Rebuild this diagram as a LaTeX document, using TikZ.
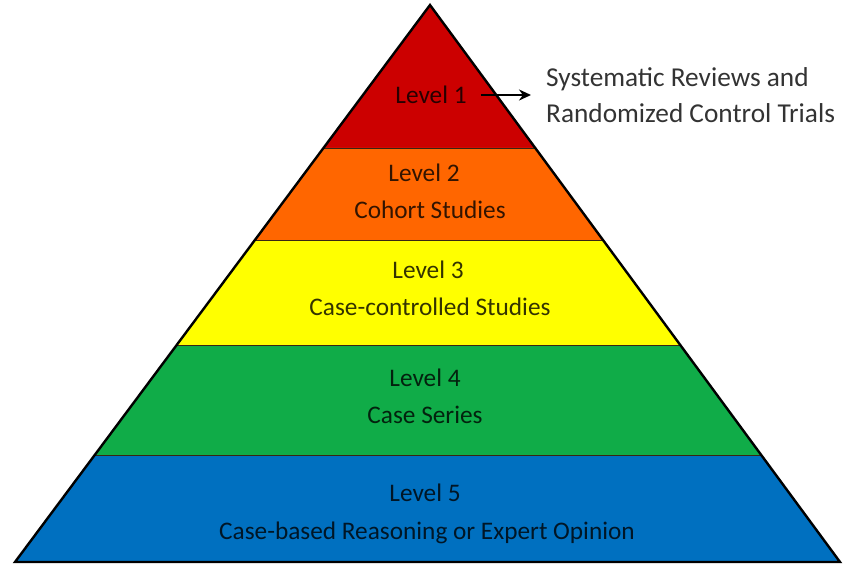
\documentclass[tikz,border=0pt]{standalone}
\usepackage{fontspec}
\setmainfont{Carlito}
\usepackage{tikz}
\usetikzlibrary{calc,positioning,arrows.meta}

\definecolor{lvlred}{RGB}{204,0,0}
\definecolor{lvlorange}{RGB}{255,102,0}
\definecolor{lvlyellow}{RGB}{255,255,0}
\definecolor{lvlgreen}{RGB}{16,172,72}
\definecolor{lvlblue}{RGB}{0,112,192}

\tikzset{
  lvltext/.style={font=\fontsize{25.3}{28}\selectfont, text=black, text opacity=0.8, inner sep=1pt},
  notetext/.style={font=\fontsize{27.3}{36}\selectfont, text=black, text opacity=0.8, inner sep=1pt},
  sepline/.style={draw=black!70!brown, line width=0.8pt},
}

\begin{document}
\begin{tikzpicture}[x=1pt,y=-1pt]
    \useasboundingbox (0,0) rectangle (845,566);

    % Corners
    \coordinate (apex) at (430,5);
    \coordinate (bl) at (15,562);
    \coordinate (br) at (840,562);

    % Band edges
    \foreach \t [count=\i] in {0.2567,0.4219,0.6104,0.8079} {
        \coordinate (l\i) at ($(apex)!\t!(bl)$);
        \coordinate (r\i) at ($(apex)!\t!(br)$);
    }

    % Color bands
    \fill[lvlred] (apex) -- (l1) -- (r1) -- cycle;
    \fill[lvlorange] (l1) -- (l2) -- (r2) -- (r1) -- cycle;
    \fill[lvlyellow] (l2) -- (l3) -- (r3) -- (r2) -- cycle;
    \fill[lvlgreen] (l3) -- (l4) -- (r4) -- (r3) -- cycle;
    \fill[lvlblue] (l4) -- (bl) -- (br) -- (r4) -- cycle;

    % Separators and outline
    \draw[sepline] (l1) -- (r1) (l2) -- (r2) (l3) -- (r3) (l4) -- (r4);
    \draw[line width=2.4pt, line join=miter] (apex) -- (bl) -- (br) -- cycle;

    % Labels
    \node[lvltext] (lvl1) at (431,95) {Level 1};
    \node[lvltext] (lvl2) at (424,173) {Level 2};
    \node[lvltext] (cohort) at (430,210) {Cohort Studies};
    \node[lvltext] (lvl3) at (428,270) {Level 3};
    \node[lvltext] (casectl) at (430,307) {Case-controlled Studies};
    \node[lvltext] (lvl4) at (425,378) {Level 4};
    \node[lvltext] (series) at (425,415) {Case Series};
    \node[lvltext] (lvl5) at (425,493) {Level 5};
    \node[lvltext] (expert) at (427,533) {Case-based Reasoning or Expert Opinion};

    % Note
    \node[notetext, align=left, anchor=west] (note) at (545,95)
        {Systematic Reviews and\\Randomized Control Trials};
    \draw[-{Stealth[length=12pt,width=11pt]}, line width=2pt,
          shorten <=13pt, shorten >=14pt] (lvl1.east) -- (note.west);
\end{tikzpicture}
\end{document}
